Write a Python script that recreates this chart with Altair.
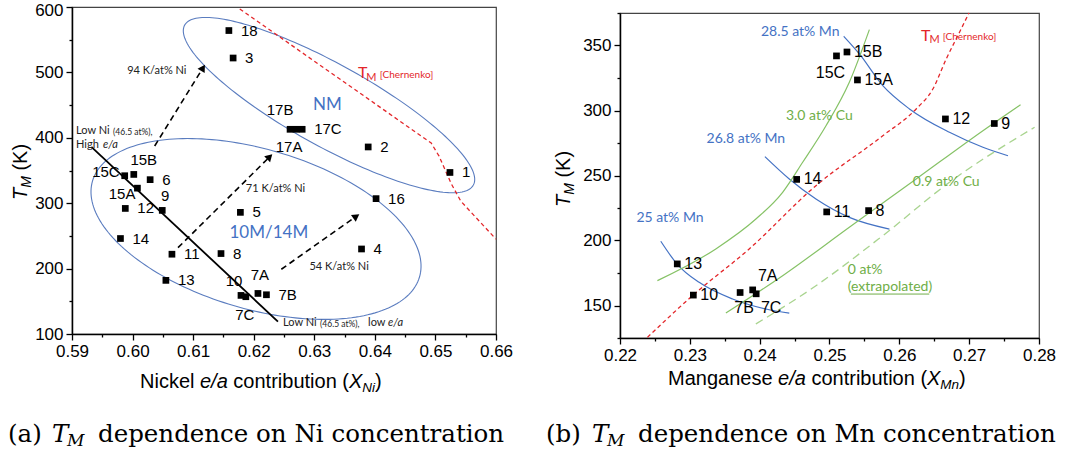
import altair as alt
import numpy as np
import pandas as pd

SANS = "Liberation Sans"
CAL = "Lato"
SERIF = "DejaVu Serif"
BLUE = "#4472C4"
ELL = "#5a7cbf"
GREEN_L = "#86c266"
GREEN_T = "#6fae47"
GREEN_D = "#a9d48f"
RED = "#e3262a"

# ---------------- Panel (a): T_M vs Ni e/a contribution ----------------
a_labels = ["18", "3", "17B", "17A", "17C", "2", "1", "16", "4", "5", "8", "7A", "7B",
            "10", "7C", "13", "11", "14", "12", "9", "15A", "15C", "15B", "6"]
a_xni = [0.6159, 0.6166, 0.6260, 0.6270, 0.6280, 0.6389, 0.6524, 0.6402, 0.6378, 0.6178,
         0.6146, 0.6207, 0.6221, 0.6179, 0.6187, 0.6055, 0.6065, 0.5980, 0.5988, 0.6049,
         0.6008, 0.5987, 0.6002, 0.6029]
a_tm = [564, 522, 413, 413, 413, 386, 347, 307, 230, 286, 223, 162, 160, 159, 157, 182,
        222, 246, 292, 289, 323, 342, 344, 336]

a_cher_x = [0.6177, 0.6493, 0.6506, 0.6526, 0.6542, 0.6600]
a_cher_t = [597, 392, 372, 330, 303, 245]
a_lowni_x = [0.5932, 0.6240]
a_lowni_t = [386, 119]
a_arrow_x0 = [0.60365, 0.6075, 0.62456]
a_arrow_t0 = [387.5, 232, 199]
a_arrow_x1 = [0.61163, 0.62264, 0.63694]
a_arrow_t1 = [507, 371, 280]
a_arrow_text = ["94 K/at% Ni", "71 K/at% Ni", "54 K/at% Ni"]
a_arrow_text_x = [0.6040, 0.6236, 0.6341]
a_arrow_text_t = [502, 322, 202]
# ellipses: centre + two conjugate semi-diameters (data units)
ell_nm = dict(cx=0.63243, cy=450.0, ux=0.02383, uy=-122.3, vx=-0.00328, vy=-54.9)
ell_10m = dict(cx=0.62038, cy=260.6, ux=0.02699, uy=-73.5, vx=-0.00372, vy=-117.1)

# ---------------- Panel (b): T_M vs Mn e/a contribution ----------------
b_labels = ["15B", "15C", "15A", "12", "9", "14", "11", "8", "13", "10", "7B", "7A", "7C"]
b_xmn = [0.2525, 0.2510, 0.2540, 0.2666, 0.2736, 0.2453, 0.2496, 0.2556, 0.2282, 0.2305,
         0.2372, 0.2390, 0.2395]
b_tm = [345, 342, 323.5, 293.5, 290, 247, 222, 223, 182, 158, 160, 162, 159]

mn285_x = [0.25204, 0.25428, 0.25763, 0.26145, 0.26718, 0.27197, 0.27556]
mn285_t = [357.1, 343.5, 319.1, 301.2, 283.2, 271.7, 265.2]
mn268_x = [0.24075, 0.24424, 0.24806, 0.25284, 0.25858]
mn268_t = [264.5, 247.3, 231.9, 217.8, 208.8]
mn25_x = [0.22584, 0.22817, 0.23133, 0.23612, 0.24089, 0.24424]
mn25_t = [199.4, 181.9, 167.8, 155.0, 147.3, 144.2]
cu30_x = [0.22536, 0.23372, 0.23946, 0.24329, 0.24616, 0.2495, 0.25284, 0.25571]
cu30_t = [169.1, 193.5, 216.5, 237.1, 260.2, 288.3, 321.7, 362.2]
cu09_x = [0.23516, 0.24329, 0.25284, 0.26241, 0.27197, 0.27736]
cu09_t = [144.2, 172.9, 210.2, 247.3, 284.5, 304.5]
cu0_x = [0.23946, 0.24806, 0.25763, 0.26718, 0.27937]
cu0_t = [135.8, 165.2, 203.7, 244.8, 287.1]
b_cher_x = [0.22393, 0.23047, 0.2385, 0.24806, 0.25763, 0.26241, 0.2648, 0.26671, 0.26862, 0.26997]
b_cher_t = [125.5, 158, 193.5, 242.2, 280.6, 301.2, 316.5, 339.6, 360.2, 375]

# ---------------- layout / style constants ----------------
A_W, A_H = 424, 327
B_W, B_H = 419, 325
A_TOP, B_TOP = 6, 12
A_LEFT, B_LEFT = 74, 622

ONE = pd.DataFrame({"z": [0]})

AW = {' ': 278, '(': 333, ')': 333, '/': 278, '.': 278, '%': 889, 'a': 556, 'b': 556,
      'c': 500, 'd': 556, 'e': 556, 'g': 556, 'h': 556, 'i': 222, 'k': 500, 'l': 222,
      'm': 833, 'n': 556, 'o': 556, 'p': 556, 'r': 333, 's': 500, 't': 278, 'u': 556,
      'M': 833, 'N': 722, 'X': 667, 'T': 611, 'K': 667, 'C': 722}


def tw(s, size):
    return sum(AW.get(c, 556) for c in s) * size / 1000.0


def df_xy(xs, ys):
    d = pd.DataFrame({"x": list(xs), "y": list(ys)})
    d["i"] = range(len(d))
    return d


def ellipse(p, n=200):
    t = np.linspace(0, 2 * np.pi, n + 1)
    return df_xy(p["cx"] + p["ux"] * np.cos(t) + p["vx"] * np.sin(t),
                 p["cy"] + p["uy"] * np.cos(t) + p["vy"] * np.sin(t))


def make_axis(values, test, fmt, top_value=None):
    extra = {}
    if top_value is not None:
        extra["labelOffset"] = {"condition": {"test": f"datum.value == {top_value}", "value": 3},
                                "value": 0}
    return alt.Axis(values=values, title=None, grid=False,
                    labelExpr=f"({test}) ? format(datum.value, '{fmt}') : ''",
                    tickSize={"condition": {"test": test, "value": 6}, "value": 3},
                    domainColor="black", domainWidth=1.5, tickColor="black", tickWidth=1.3,
                    labelFont=SANS, labelFontSize=17, labelColor="black", labelPadding=3,
                    labelFlush=False, labelOverlap=False, **extra)


def pixel_text(pieces, x0, y0, angle=0, font=SANS):
    layers = []
    off = 0.0
    for txt, size, style, dy in pieces:
        lead = len(txt) - len(txt.lstrip(" "))
        core = txt.strip(" ")
        start = off + tw(" " * lead, size)
        if core:
            if angle == 0:
                layers.append(alt.Chart(ONE).mark_text(
                    text=core, align="left", baseline="alphabetic", font=font, fontSize=size,
                    fontStyle=style, color="black", dy=dy).encode(
                    x=alt.value(x0 + start), y=alt.value(y0)))
            else:
                layers.append(alt.Chart(ONE).mark_text(
                    text=core, align="left", baseline="alphabetic", font=font, fontSize=size,
                    fontStyle=style, color="black", angle=angle, dx=start, dy=dy).encode(
                    x=alt.value(x0), y=alt.value(y0)))
        off += tw(txt, size)
    return layers


def caption(pieces, y0):
    return [alt.Chart(ONE).mark_text(text=t, align="left", baseline="alphabetic", font=SERIF,
                                     fontSize=s, fontStyle=st, color="black", dy=dy).encode(
        x=alt.value(x), y=alt.value(y0)) for t, x, s, st, dy in pieces]


def data_text(E, x, y, pieces, font, color, align="left", baseline="middle"):
    return [alt.Chart(df_xy([x], [y])).mark_text(
        text=t, align=align, baseline=baseline, font=font, fontSize=s, fontStyle=st,
        color=color, dx=dx, dy=dy).encode(x=E["x"], y=E["y"]) for t, s, st, dx, dy in pieces]


def line(E, xs, ys, **kw):
    return alt.Chart(df_xy(xs, ys)).mark_line(**kw).encode(x=E["x"], y=E["y"], order="i:Q")


def point_labels(E, labels, xs, ys, place, default, size):
    layers = []
    for lab, x, y in zip(labels, xs, ys):
        dx, dy, al = place.get(lab, default)
        layers.append(alt.Chart(df_xy([x], [y])).mark_text(
            text=lab, align=al, baseline="middle", font=SANS, fontSize=size, color="black",
            dx=dx, dy=dy).encode(x=E["x"], y=E["y"]))
    return layers


# ---------------- Panel (a) chart ----------------
ax_ax = make_axis([round(0.59 + 0.005 * i, 3) for i in range(15)],
                  "round(datum.value*1000) % 10 == 0", ".2f")
ax_ay = make_axis(list(range(100, 601, 50)), "datum.value % 100 == 0", "d", top_value=600)
EA = dict(x=alt.X("x:Q", scale=alt.Scale(domain=[0.59, 0.66], nice=False, zero=False), axis=ax_ax),
          y=alt.Y("y:Q", scale=alt.Scale(domain=[100, 600], nice=False, zero=False), axis=ax_ay))

a_layers = []
for p in (ell_nm, ell_10m):
    d = ellipse(p)
    a_layers.append(alt.Chart(d).mark_line(color=ELL, strokeWidth=1.1).encode(x=EA["x"], y=EA["y"], order="i:Q"))
a_layers.append(line(EA, a_cher_x, a_cher_t, color=RED, strokeDash=[4, 3], strokeWidth=1.3))
a_layers.append(line(EA, a_lowni_x, a_lowni_t, color="black", strokeWidth=1.8))
arrow_angles = [32, 45, 55]
for k in range(3):
    a_layers.append(line(EA, [a_arrow_x0[k], a_arrow_x1[k]], [a_arrow_t0[k], a_arrow_t1[k]],
                         color="black", strokeDash=[6, 4], strokeWidth=1.6))
    a_layers.append(alt.Chart(df_xy([a_arrow_x1[k]], [a_arrow_t1[k]])).mark_point(
        shape="triangle-up", filled=True, size=70, angle=arrow_angles[k], color="black", opacity=1
    ).encode(x=EA["x"], y=EA["y"]))
a_layers.append(alt.Chart(df_xy(a_xni, a_tm)).mark_square(size=45, color="black", opacity=1)
                .encode(x=EA["x"], y=EA["y"]))
a_place = {"9": (3, -14, "center"), "15A": (-2, 6, "right"), "15C": (-5, -4, "right"),
           "15B": (10, -14, "center"), "17B": (-10, -19, "center"), "17A": (-7, 18, "center"),
           "7A": (2, -18, "center"), "10": (-7, -14, "center"), "7C": (-1, 18, "center")}
a_layers += point_labels(EA, a_labels, a_xni, a_tm, a_place, (12, 0, "left"), 15)
for t, x, y in zip(a_arrow_text, a_arrow_text_x, a_arrow_text_t):
    a_layers += data_text(EA, x, y, [(t, 11, "normal", 0, 0)], CAL, "#222", align="center")
a_layers += data_text(EA, 0.63218, 450.2, [("NM", 17, "normal", 0, 0)], CAL, BLUE, align="center")
a_layers += data_text(EA, 0.6225, 254.4, [("10M/14M", 17, "normal", 0, 0)], CAL, BLUE, align="center")
a_layers += data_text(EA, 0.59066, 410.4, [("Low Ni", 11, "normal", 0, 0),
                                            ("(46.5 at%),", 8.5, "normal", 37, 1)], CAL, "#222")
a_layers += data_text(EA, 0.59066, 389.0, [("High", 11, "normal", 0, 0),
                                            ("e/a", 11, "italic", 27, 0)], CAL, "#222")
a_layers += data_text(EA, 0.62484, 116.8, [("Low Ni", 11, "normal", 0, 0),
                                            ("(46.5 at%),", 8.5, "normal", 37, 1),
                                            ("low", 11, "normal", 85, 0),
                                            ("e/a", 11, "italic", 105, 0)], CAL, "#222")
a_layers += data_text(EA, 0.63722, 499.1, [("T", 16, "normal", 0, 0),
                                            ("M", 11, "normal", 8.3, 5),
                                            ("[Chernenko]", 10, "normal", 21.7, 2)], CAL, RED)
# axis titles and caption (pixel positions relative to plot origin)
a_layers += pixel_text([("Nickel ", 20, "normal", 0), ("e/a", 20, "italic", 0),
                        (" contribution (", 20, "normal", 0), ("X", 20, "italic", 0),
                        ("Ni", 13.5, "italic", 4), (")", 20, "normal", 0)],
                       142 - A_LEFT, 387 - A_TOP)
a_layers += pixel_text([("T", 20, "italic", 0), ("M", 14, "italic", 4), (" (K)", 20, "normal", 0)],
                       29 - A_LEFT, 199 - A_TOP, angle=270)
a_layers += caption([("(a)", 10 - A_LEFT, 24.5, "normal", 0), ("T", 54 - A_LEFT, 24.5, "italic", 0),
                     ("M", 69 - A_LEFT, 17, "italic", 4),
                     ("dependence on Ni concentration", 100 - A_LEFT, 24.5, "normal", 0)], 441 - A_TOP)
chart_a = alt.layer(*a_layers).properties(width=A_W, height=A_H)

# ---------------- Panel (b) chart ----------------
ax_bx = make_axis([round(0.22 + 0.005 * i, 3) for i in range(13)],
                  "round(datum.value*1000) % 10 == 0", ".2f")
ax_by = make_axis(list(range(125, 376, 25)), "datum.value % 50 == 0", "d")
EB = dict(x=alt.X("x:Q", scale=alt.Scale(domain=[0.22, 0.28], nice=False, zero=False), axis=ax_bx),
          y=alt.Y("y:Q", scale=alt.Scale(domain=[125, 375], nice=False, zero=False), axis=ax_by))

b_layers = []
for xs, ys in ((mn285_x, mn285_t), (mn268_x, mn268_t), (mn25_x, mn25_t)):
    b_layers.append(line(EB, xs, ys, color=BLUE, strokeWidth=1.2, interpolate="monotone"))
for xs, ys in ((cu30_x, cu30_t), (cu09_x, cu09_t)):
    b_layers.append(line(EB, xs, ys, color=GREEN_L, strokeWidth=1.2, interpolate="monotone"))
b_layers.append(line(EB, cu0_x, cu0_t, color=GREEN_D, strokeWidth=1.3, strokeDash=[8, 5],
                     interpolate="monotone"))
b_layers.append(line(EB, b_cher_x, b_cher_t, color=RED, strokeWidth=1.3, strokeDash=[4, 3],
                     interpolate="monotone"))
b_layers.append(alt.Chart(df_xy(b_xmn, b_tm)).mark_square(size=45, color="black", opacity=1)
                .encode(x=EB["x"], y=EB["y"]))
b_place = {"15C": (-6, 17, "center"), "7A": (15, -14, "center"), "7B": (4, 15, "center"),
           "7C": (15, 14, "center")}
b_layers += point_labels(EB, b_labels, b_xmn, b_tm, b_place, (7, 0, "left"), 16)
b_layers += data_text(EB, 0.24018, 360.4, [("28.5 at% Mn", 14, "normal", 0, 0)], CAL, BLUE)
b_layers += data_text(EB, 0.23239, 278.1, [("26.8 at% Mn", 14, "normal", 0, 0)], CAL, BLUE)
b_layers += data_text(EB, 0.22235, 217.3, [("25 at% Mn", 14, "normal", 0, 0)], CAL, BLUE)
b_layers += data_text(EB, 0.24376, 295.5, [("3.0 at% Cu", 14, "normal", 0, 0)], CAL, GREEN_T)
b_layers += data_text(EB, 0.26193, 244.8, [("0.9 at% Cu", 14, "normal", 0, 0)], CAL, GREEN_T)
b_layers += data_text(EB, 0.25261, 177.5, [("0 at%", 14, "normal", 0, 0)], CAL, GREEN_T)
b_layers += data_text(EB, 0.25261, 164.0, [("(extrapolated)", 14, "normal", 0, 0)], CAL, GREEN_T)
b_layers.append(alt.Chart(pd.DataFrame({"x": [0.25306], "x2": [0.26429], "y": [158.8]}))
                .mark_rule(color=GREEN_T, strokeWidth=1)
                .encode(x=EB["x"], x2="x2:Q", y=EB["y"]))
b_layers += data_text(EB, 0.26311, 357.5, [("T", 16, "normal", 0, 0),
                                            ("M", 11, "normal", 8.5, 4),
                                            ("[Chernenko]", 10, "normal", 21.7, 1)], CAL, RED)
b_layers += pixel_text([("Manganese ", 20, "normal", 0), ("e/a", 20, "italic", 0),
                        (" contribution (", 20, "normal", 0), ("X", 20, "italic", 0),
                        ("Mn", 13.5, "italic", 4), (")", 20, "normal", 0)],
                       670 - B_LEFT, 384 - B_TOP)
b_layers += pixel_text([("T", 20, "italic", 0), ("M", 14, "italic", 4), (" (K)", 20, "normal", 0)],
                       572 - B_LEFT, 206 - B_TOP, angle=270)
b_layers += caption([("(b)", 548 - B_LEFT, 24.5, "normal", 0), ("T", 594 - B_LEFT, 24.5, "italic", 0),
                     ("M", 609 - B_LEFT, 17, "italic", 4),
                     ("dependence on Mn concentration", 640 - B_LEFT, 24.5, "normal", 0)], 441 - B_TOP)
chart_b = alt.layer(*b_layers).properties(width=B_W, height=B_H)

# invisible spacer so panel (b) starts a few pixels lower than panel (a)
spacer = (alt.Chart(ONE).mark_point(opacity=0)
          .encode(x=alt.value(0), y=alt.value(0))
          .properties(width=B_W, height=B_TOP - A_TOP, view=alt.ViewBackground(stroke=None)))
right_col = alt.vconcat(spacer, chart_b, spacing=0, bounds="flush")

chart = (alt.hconcat(chart_a, right_col, spacing=B_LEFT - A_LEFT - A_W, bounds="flush")
         .properties(padding={"left": 7, "top": 0, "right": 5, "bottom": 0}, background="white")
         .configure_view(stroke="#444", strokeWidth=1.2))

chart.save("out.html", embed_options={"renderer": "svg", "actions": False})
